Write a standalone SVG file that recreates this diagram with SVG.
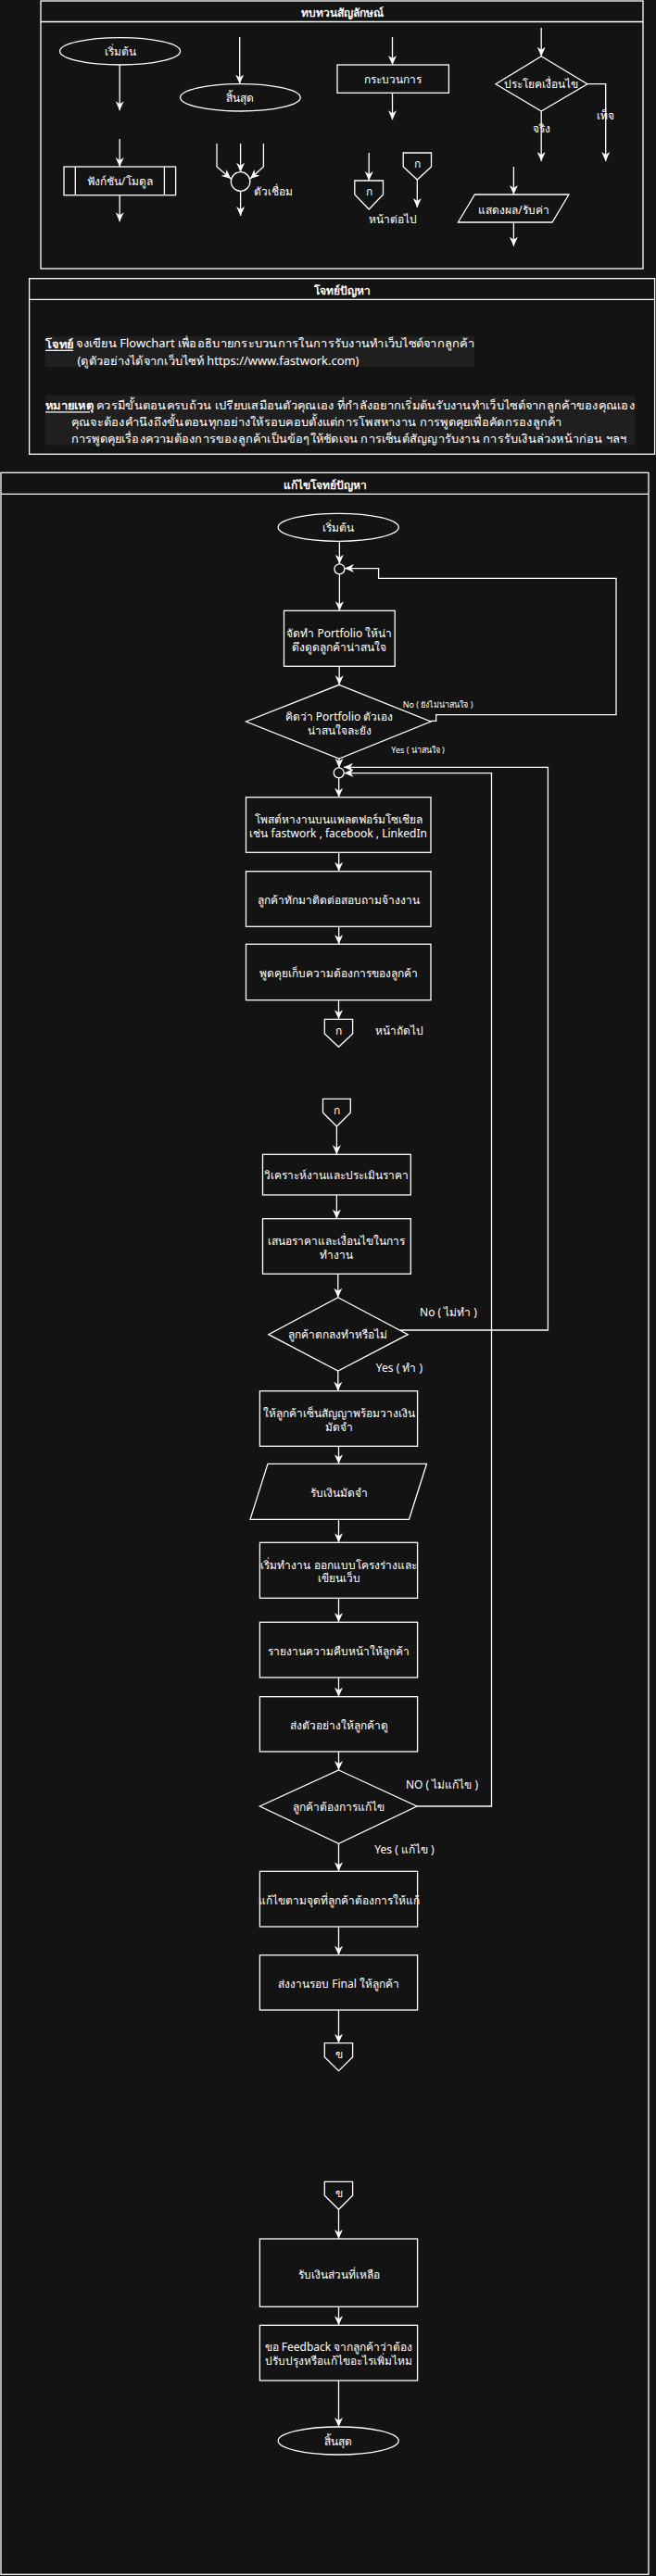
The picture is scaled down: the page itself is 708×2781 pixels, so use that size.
<svg xmlns="http://www.w3.org/2000/svg" width="708" height="2781" viewBox="0 0 708 2781">
<defs>
<marker id="ah" markerWidth="10" markerHeight="10" refX="10" refY="5" orient="auto" markerUnits="userSpaceOnUse">
<path d="M0,0.5 L10,5 L0,9.5 L3,5 Z" fill="#ffffff"/>
</marker>
<style>
.bg{fill:#131313}
.sh{fill:none;stroke:#ffffff;stroke-width:1.3}
.ln{fill:none;stroke:#ffffff;stroke-width:1.3}
.ar{fill:none;stroke:#ffffff;stroke-width:1.3;marker-end:url(#ah)}
.t{font-family:"Noto Sans","Liberation Sans",sans-serif;font-size:12px;fill:#ffffff;text-anchor:middle;dominant-baseline:central}
.tb{font-weight:bold}
.ts{font-size:9px}
.tp{font-family:"Noto Sans","Liberation Sans",sans-serif;font-size:12.5px;fill:#ffffff;dominant-baseline:central}
.lbg{fill:#1f1f1f}
</style>
</defs>
<rect class="bg" x="0" y="0" width="708" height="2781"/>

<!-- Legend -->
<g id="legend">
<rect class="sh" x="44" y="1" width="650" height="289"/>
<line class="ln" x1="44" y1="23.5" x2="694" y2="23.5"/>
<text class="t tb" x="369" y="13">ทบทวนสัญลักษณ์</text>
</g>
<g id="lg-start">
<ellipse class="sh" cx="129.6" cy="55.3" rx="65" ry="14.7"/>
<text class="t" x="129.6" y="55.3">เริ่มต้น</text>
</g>
<g id="lg-end">
<ellipse class="sh" cx="259.4" cy="105.3" rx="64.8" ry="14.7"/>
<text class="t" x="259.4" y="105.3">สิ้นสุด</text>
</g>
<g id="lg-process">
<rect class="sh" x="364" y="70" width="120.4" height="30.3"/>
<text class="t" x="424" y="85.5">กระบวนการ</text>
</g>
<g id="lg-decision">
<polygon class="sh" points="584.2,60.7 633.9,90.7 584.2,120 535,90.7"/>
<text class="t" x="584.2" y="90.7" font-size="11">ประโยคเงื่อนไข</text>
<text class="t" x="584.2" y="138.3">จริง</text>
<text class="t" x="653.7" y="124">เท็จ</text>
</g>
<g id="lg-function">
<rect class="sh" x="69" y="180" width="120.6" height="30.7"/>
<line class="ln" x1="81.3" y1="180" x2="81.3" y2="210.7"/>
<line class="ln" x1="177.4" y1="180" x2="177.4" y2="210.7"/>
<text class="t" x="129.3" y="195.5">ฟังก์ชัน/โมดูล</text>
</g>
<g id="lg-connector">
<circle class="sh" cx="259.6" cy="196" r="10.3"/>
<text class="t" x="295" y="206.7">ตัวเชื่อม</text>
</g>
<g id="lg-offpage">
<path class="sh" d="M382.8,195 L413.5,195 L413.5,210 L398.2,226 L382.8,210 Z"/>
<text class="t" x="398.2" y="206">ก</text>
<path class="sh" d="M435.2,165 L465.5,165 L465.5,180 L450.3,194 L435.2,180 Z"/>
<text class="t" x="450.3" y="176.5">ก</text>
<text class="t" x="424.4" y="236.7">หน้าต่อไป</text>
</g>
<g id="lg-io">
<polygon class="sh" points="512.4,210 614,210 596,240 494.4,240"/>
<text class="t" x="554.4" y="226">แสดงผล/รับค่า</text>
</g>
<g id="lg-connectors">
<line class="ar" x1="129.2" y1="70" x2="129.2" y2="119.3"/>
<line class="ar" x1="129.2" y1="150" x2="129.2" y2="180"/>
<line class="ar" x1="129.2" y1="210.7" x2="129.2" y2="239.3"/>
<line class="ar" x1="258.7" y1="40" x2="258.7" y2="90.6"/>
<line class="ar" x1="259.6" y1="155" x2="259.6" y2="185.7"/>
<polyline class="ar" points="234,155 234,180 249.2,193"/>
<polyline class="ar" points="284.4,155 284.4,180 270,193"/>
<line class="ar" x1="259.6" y1="206.3" x2="259.6" y2="233"/>
<line class="ar" x1="423.5" y1="40" x2="423.5" y2="70"/>
<line class="ar" x1="423.5" y1="100.3" x2="423.5" y2="129.3"/>
<line class="ar" x1="398.2" y1="165" x2="398.2" y2="195"/>
<line class="ar" x1="450.3" y1="194" x2="450.3" y2="224"/>
<line class="ar" x1="584.2" y1="30" x2="584.2" y2="60.7"/>
<line class="ar" x1="584.2" y1="120" x2="584.2" y2="174"/>
<polyline class="ar" points="633.9,90.7 653.7,90.7 653.7,174"/>
<line class="ar" x1="554.4" y1="180" x2="554.4" y2="210"/>
<line class="ar" x1="554.4" y1="240" x2="554.4" y2="265.7"/>
</g>

<!-- Problem -->
<g id="problem">
<rect class="sh" x="31.6" y="300.7" width="675" height="189.6"/>
<line class="ln" x1="31.6" y1="323.3" x2="706.6" y2="323.3"/>
<text class="t tb" x="369" y="313.5">โจทย์ปัญหา</text>
<rect class="lbg" x="48.8" y="363" width="463.6" height="33.3"/>
<rect class="lbg" x="48.8" y="427" width="636.5" height="53.7"/>
<text class="tp" x="49" y="370.7" textLength="463" lengthAdjust="spacingAndGlyphs"><tspan font-weight="bold" text-decoration="underline">โจทย์</tspan> จงเขียน Flowchart เพื่ออธิบายกระบวนการในการรับงานทำเว็บไซต์จากลูกค้า</text>
<text class="tp" x="83.5" y="389.7" textLength="304" lengthAdjust="spacingAndGlyphs">(ดูตัวอย่างได้จากเว็บไซท์ https://www.fastwork.com)</text>
<text class="tp" x="49" y="437.3" textLength="636" lengthAdjust="spacingAndGlyphs"><tspan font-weight="bold" text-decoration="underline">หมายเหตุ</tspan> ควรมีขั้นตอนครบถ้วน เปรียบเสมือนตัวคุณเอง ที่กำลังอยากเริ่มต้นรับงานทำเว็บไซต์จากลูกค้าของคุณเอง</text>
<text class="tp" x="76.7" y="455.7" textLength="530" lengthAdjust="spacingAndGlyphs">คุณจะต้องคำนึงถึงขั้นตอนทุกอย่างให้รอบคอบตั้งแต่การโพสหางาน การพูดคุยเพื่อคัดกรองลูกค้า</text>
<text class="tp" x="76.7" y="473" textLength="600" lengthAdjust="spacingAndGlyphs">การพูดคุยเรื่องความต้องการของลูกค้าเป็นข้อๆให้ชัดเจน การเซ็นต์สัญญารับงาน การรับเงินล่วงหน้าก่อน ฯลฯ</text>
</g>

<!-- Solution -->
<g id="solution">
<rect class="sh" x="1" y="510.3" width="699" height="2269"/>
<line class="ln" x1="1" y1="533.3" x2="700" y2="533.3"/>
<text class="t tb" x="350.5" y="523.5">แก้ไขโจทย์ปัญหา</text>
</g>
<g id="s-start">
<ellipse class="sh" cx="365.2" cy="569.3" rx="65" ry="15"/>
<text class="t" x="365.2" y="569.3">เริ่มต้น</text>
</g>
<g id="s-join1"><circle class="sh" cx="366.4" cy="614.3" r="5.5"/></g>
<g id="s-portfolio">
<rect class="sh" x="306.5" y="659.3" width="119.7" height="60"/>
<text class="t" x="366.4" y="683.3">จัดทำ Portfolio ให้น่า</text>
<text class="t" x="366.4" y="698">ดึงดูดลูกค้าน่าสนใจ</text>
</g>
<g id="s-dec1">
<polygon class="sh" points="366,739.3 465,779 366,819 265.5,779"/>
<text class="t" x="366" y="773.7">คิดว่า Portfolio ตัวเอง</text>
<text class="t" x="366" y="788.3">น่าสนใจละยัง</text>
</g>
<g id="s-join2"><circle class="sh" cx="365.7" cy="834.3" r="5.5"/></g>
<g id="s-post">
<rect class="sh" x="265.5" y="860.7" width="199.5" height="59.6"/>
<text class="t" x="365.2" y="884">โพสต์หางานบนแพลตฟอร์มโซเชียล</text>
<text class="t" x="365.2" y="899">เช่น  fastwork , facebook , LinkedIn</text>
</g>
<g id="s-contact">
<rect class="sh" x="265.5" y="940.7" width="199.5" height="59.6"/>
<text class="t" x="365.2" y="971">ลูกค้าทักมาติดต่อสอบถามจ้างงาน</text>
</g>
<g id="s-req">
<rect class="sh" x="265.5" y="1019.3" width="199.5" height="60.4"/>
<text class="t" x="365.2" y="1050">พูดคุยเก็บความต้องการของลูกค้า</text>
</g>
<g id="s-off1">
<path class="sh" d="M350.3,1100.3 L380.6,1100.3 L380.6,1116 L365.5,1130.3 L350.3,1116 Z"/>
<text class="t" x="365.5" y="1112">ก</text>
<text class="t" x="430.6" y="1112">หน้าถัดไป</text>
</g>
<g id="s-off2">
<path class="sh" d="M348.5,1186.3 L378.3,1186.3 L378.3,1201.3 L363.4,1216 L348.5,1201.3 Z"/>
<text class="t" x="363.4" y="1198">ก</text>
</g>
<g id="s-analyze">
<rect class="sh" x="283.5" y="1246.3" width="159.8" height="43.7"/>
<text class="t" x="363.4" y="1268.5">วิเคราะห์งานและประเมินราคา</text>
</g>
<g id="s-quote">
<rect class="sh" x="283.5" y="1315.7" width="159.8" height="59.6"/>
<text class="t" x="363.4" y="1339">เสนอราคาและเงื่อนไขในการ</text>
<text class="t" x="363.4" y="1354.3">ทำงาน</text>
</g>
<g id="s-dec2">
<polygon class="sh" points="364.8,1400.7 440.2,1440.7 364.8,1480 289.8,1440.7"/>
<text class="t" x="364.8" y="1440.7">ลูกค้าตกลงทำหรือไม่</text>
</g>
<g id="s-contract">
<rect class="sh" x="280.4" y="1501.7" width="170.2" height="59.6"/>
<text class="t" x="365.5" y="1525.3">ให้ลูกค้าเซ็นสัญญาพร้อมวางเงิน</text>
<text class="t" x="365.5" y="1540.3">มัดจำ</text>
</g>
<g id="s-deposit">
<polygon class="sh" points="289,1580.3 460.5,1580.3 441.5,1640.3 270,1640.3"/>
<text class="t" x="365.5" y="1611">รับเงินมัดจำ</text>
</g>
<g id="s-start-work">
<rect class="sh" x="280.4" y="1665.3" width="170.2" height="60"/>
<text class="t" x="365.5" y="1689.7">เริ่มทำงาน ออกแบบโครงร่างและ</text>
<text class="t" x="365.5" y="1703.7">เขียนเว็บ</text>
</g>
<g id="s-report">
<rect class="sh" x="280.4" y="1751.3" width="170.2" height="59.7"/>
<text class="t" x="365.5" y="1782.5">รายงานความคืบหน้าให้ลูกค้า</text>
</g>
<g id="s-sample">
<rect class="sh" x="280.4" y="1831.7" width="170.2" height="59.3"/>
<text class="t" x="365.5" y="1862.5">ส่งตัวอย่างให้ลูกค้าดู</text>
</g>
<g id="s-dec3">
<polygon class="sh" points="365.5,1911 450,1950 365.5,1990.3 280.4,1950"/>
<text class="t" x="365.5" y="1950">ลูกค้าต้องการแก้ไข</text>
</g>
<g id="s-fix">
<rect class="sh" x="280.4" y="2020.3" width="170.2" height="59.7"/>
<text class="t" x="365.5" y="2051.3">แก้ไขตามจุดที่ลูกค้าต้องการให้แก้</text>
</g>
<g id="s-final">
<rect class="sh" x="280.4" y="2110.7" width="170.2" height="59.3"/>
<text class="t" x="365.5" y="2141.3">ส่งงานรอบ Final ให้ลูกค้า</text>
</g>
<g id="s-off3">
<path class="sh" d="M350.3,2205.7 L380.6,2205.7 L380.6,2220.7 L365.5,2235.7 L350.3,2220.7 Z"/>
<text class="t" x="365.5" y="2217.3">ข</text>
</g>
<g id="s-off4">
<path class="sh" d="M350.3,2355.3 L380.6,2355.3 L380.6,2370.3 L365.5,2385.3 L350.3,2370.3 Z"/>
<text class="t" x="365.5" y="2367">ข</text>
</g>
<g id="s-rest">
<rect class="sh" x="280.4" y="2417" width="170.2" height="73.3"/>
<text class="t" x="365.5" y="2455">รับเงินส่วนที่เหลือ</text>
</g>
<g id="s-feedback">
<rect class="sh" x="280.4" y="2510.3" width="170.2" height="59.7"/>
<text class="t" x="365.5" y="2533.5">ขอ Feedback  จากลูกค้าว่าต้อง</text>
<text class="t" x="365.5" y="2548.3">ปรับปรุงหรือแก้ไขอะไรเพิ่มไหม</text>
</g>
<g id="s-end">
<ellipse class="sh" cx="365.2" cy="2635" rx="65" ry="15"/>
<text class="t" x="365.2" y="2635">สิ้นสุด</text>
</g>

<g id="connectors">
<line class="ar" x1="366.4" y1="584.3" x2="366.4" y2="608.8"/>
<line class="ar" x1="366.4" y1="619.8" x2="366.4" y2="659.3"/>
<line class="ar" x1="366.2" y1="719.3" x2="366.2" y2="739.3"/>
<polyline class="ar" points="465,778.3 470.7,778.3 470.7,771.7 665,771.7 665,624.3 408.6,624.3 408.6,613.6 372,613.6"/>
<text class="t ts" x="472.5" y="760">No ( ยังไม่น่าสนใจ )</text>
<line class="ar" x1="366" y1="819" x2="366" y2="828.8"/>
<text class="t ts" x="451" y="809.3">Yes ( น่าสนใจ )</text>
<line class="ar" x1="365.7" y1="839.8" x2="365.7" y2="860.7"/>
<line class="ar" x1="365.7" y1="920.3" x2="365.7" y2="940.7"/>
<line class="ar" x1="365.7" y1="1000.3" x2="365.7" y2="1019.3"/>
<line class="ar" x1="365.5" y1="1079.7" x2="365.5" y2="1100.3"/>
<line class="ar" x1="363.4" y1="1216" x2="363.4" y2="1246.3"/>
<line class="ar" x1="363.4" y1="1290" x2="363.4" y2="1315.7"/>
<line class="ar" x1="364.8" y1="1375.3" x2="364.8" y2="1400.7"/>
<polyline class="ar" points="432,1436 591.4,1436 591.4,828.3 371,828.3"/>
<text class="t" x="484" y="1416">No ( ไม่ทำ )</text>
<line class="ar" x1="364.8" y1="1480" x2="364.8" y2="1501.7"/>
<text class="t" x="431" y="1476.7">Yes ( ทำ )</text>
<line class="ar" x1="365.5" y1="1561.3" x2="365.5" y2="1580.3"/>
<line class="ar" x1="365.5" y1="1640.3" x2="365.5" y2="1665.3"/>
<line class="ar" x1="365.5" y1="1725.3" x2="365.5" y2="1751.3"/>
<line class="ar" x1="365.5" y1="1811" x2="365.5" y2="1831.7"/>
<line class="ar" x1="365.5" y1="1891" x2="365.5" y2="1911"/>
<polyline class="ar" points="450,1950 530.5,1950 530.5,834.6 371.5,834.6"/>
<text class="t" x="477" y="1926">NO ( ไม่แก้ไข )</text>
<line class="ar" x1="365.5" y1="1990.3" x2="365.5" y2="2020.3"/>
<text class="t" x="436.5" y="1996.7">Yes ( แก้ไข )</text>
<line class="ar" x1="365.5" y1="2080" x2="365.5" y2="2110.7"/>
<line class="ar" x1="365.5" y1="2170" x2="365.5" y2="2205.7"/>
<line class="ar" x1="365.5" y1="2385.3" x2="365.5" y2="2417"/>
<line class="ar" x1="365.5" y1="2490.3" x2="365.5" y2="2510.3"/>
<line class="ar" x1="365.5" y1="2570" x2="365.5" y2="2620"/>
</g>
</svg>
